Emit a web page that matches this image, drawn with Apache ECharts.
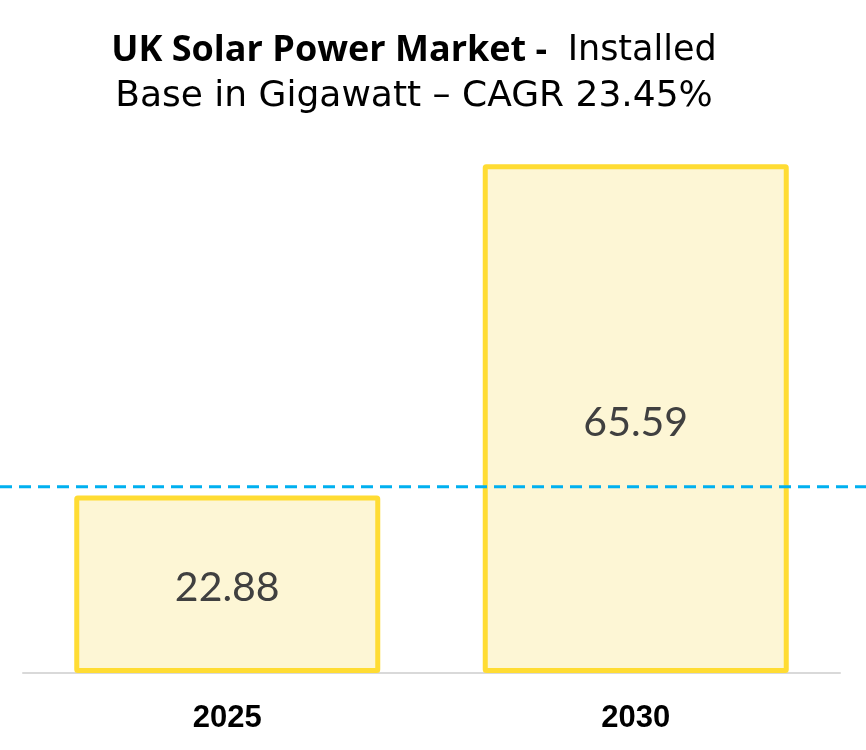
<!DOCTYPE html>
<html>
<head>
<meta charset="utf-8">
<script src="https://cdn.jsdelivr.net/npm/echarts@6/dist/echarts.min.js"></script>
<style>html,body{margin:0;padding:0;background:#fff;}#c{width:866px;height:750px;}</style>
</head>
<body>
<div id="c"></div>
<script>
const categories = ['2025', '2030'];
const installedGW = [22.88, 65.59];
const dashedLevel = 24.0;
const titleBold = 'UK Solar Power Market - ';
const titleRest = ' Installed';
const titleLine2 = 'Base in Gigawatt \u2013 CAGR 23.45%';

const chart = echarts.init(document.getElementById('c'), null, {renderer: 'canvas'});
const FONT = 'Lato';
const REG = 'DejaVu Sans';
chart.setOption({
  animation: false,
  backgroundColor: '#ffffff',
  title: [
    {
      left: 409, textAlign: 'center', top: 28,
      text: '{b|' + titleBold + '}{r|' + titleRest + '}',
      textStyle: {
        rich: {
          b: {fontFamily: 'Open Sans', fontWeight: 'bold', fontSize: 36, color: '#000'},
          r: {fontFamily: REG, fontWeight: 'normal', fontSize: 35, color: '#000'}
        }
      }
    },
    {
      left: 409, textAlign: 'center', top: 74,
      text: titleLine2,
      textStyle: {fontFamily: REG, fontWeight: 'normal', fontSize: 36, color: '#000'}
    }
  ],
  grid: [
    {left: 23, right: 26, top: 134, bottom: 77},
    {left: 0, right: 0, top: 134, bottom: 77}
  ],
  xAxis: [
    {
      type: 'category', data: categories, gridIndex: 0,
      axisLine: {show: true, lineStyle: {color: '#D9D9D9', width: 2}},
      axisTick: {show: false},
      axisLabel: {fontFamily: 'Liberation Sans', fontWeight: 'bold', fontSize: 31, color: '#000', margin: 30}
    },
    {type: 'value', gridIndex: 1, min: 0, max: 1, show: false}
  ],
  yAxis: [
    {type: 'value', gridIndex: 0, min: 0, max: 69.5, show: false, splitLine: {show: false}},
    {type: 'value', gridIndex: 1, min: 0, max: 69.5, show: false, splitLine: {show: false}}
  ],
  series: [
    {
      type: 'bar', xAxisIndex: 0, yAxisIndex: 0,
      data: installedGW,
      barWidth: 306,
      itemStyle: {color: '#FDF6D5', borderColor: '#FFDC33', borderWidth: 5, borderRadius: 1},
      label: {
        show: true, position: 'inside', offset: [0, 4],
        fontFamily: FONT, fontSize: 41, color: '#404040',
        formatter: p => p.value.toFixed(2)
      }
    },
    {
      type: 'line', xAxisIndex: 1, yAxisIndex: 1,
      data: [[0, dashedLevel], [1, dashedLevel]],
      symbol: 'none', silent: true, z: 5,
      lineStyle: {color: '#00B0F0', width: 3, type: [12, 7]}
    }
  ]
});
</script>
</body>
</html>
